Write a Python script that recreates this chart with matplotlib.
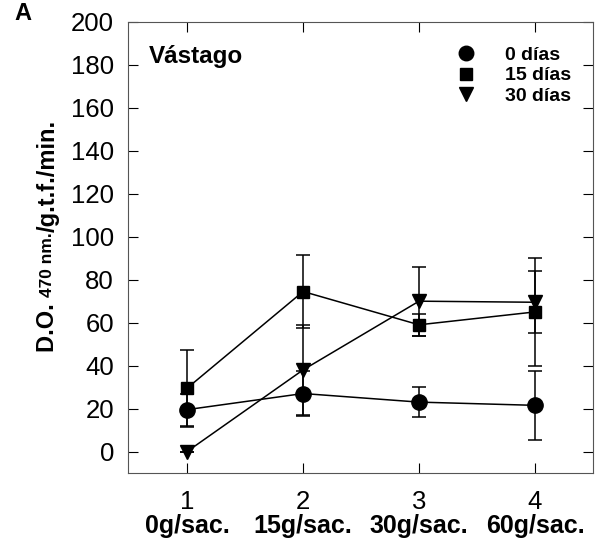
import matplotlib
matplotlib.use("Agg")
import matplotlib.pyplot as plt
from matplotlib.lines import Line2D

plt.rcParams["font.family"] = ["Liberation Sans", "DejaVu Sans"]

# Tratamientos (eje x)
dosis = [1, 2, 3, 4]
dosis_labels = ["0g/sac.", "15g/sac.", "30g/sac.", "60g/sac."]

# Actividad (D.O. 470 nm./g.t.f./min.) y desviaciones
dias0 = [19.5, 27.0, 23.0, 21.5]
dias0_err = [7.5, 10.5, 7.0, 16.0]
dias15 = [29.5, 74.5, 59.0, 65.0]
dias15_err = [18.0, 17.0, 5.0, 25.0]
dias30 = [0.0, 38.0, 70.0, 69.5]
dias30_err = [0.0, 21.0, 16.0, 14.5]

series = [
    ("0 días", dias0, dias0_err, "o", 11),
    ("15 días", dias15, dias15_err, "s", 9),
    ("30 días", dias30, dias30_err, "v", 10.5),
]

fig = plt.figure(figsize=(5.95, 5.47), dpi=100)
ax = fig.add_axes([0.2151, 0.1353, 0.7815, 0.8245])

for name, y, err, mk, ms in series:
    ax.errorbar(dosis, y, yerr=err, color="black", lw=1.1, elinewidth=1.1,
                capsize=5, capthick=1.1, marker=mk, ms=ms, mfc="black",
                mec="black", zorder=3)

ax.set_xlim(0.49, 4.5)
ax.set_ylim(-10, 200)
ax.set_yticks(range(0, 201, 20))
ax.set_xticks(dosis)
ax.set_xticklabels([str(d) for d in dosis])
ax.tick_params(direction="in", top=True, right=True, length=7, width=0.8,
               labelsize=18.5, pad=10)
ax.tick_params(axis="x", pad=12)
for s in ax.spines.values():
    s.set_linewidth(0.8)
    s.set_color("#555555")

for x, lab in zip(dosis, dosis_labels):
    ax.text(x, -0.09, lab, transform=ax.get_xaxis_transform(), ha="center",
            va="top", fontsize=18, fontweight="bold")

ax.text(0.67, 184, "Vástago", fontsize=17.5, fontweight="bold", va="center")
fig.text(0.024, 0.997, "A", fontsize=17, fontweight="bold", va="top")

handles = [Line2D([], [], ls="none", marker=mk, ms=ms * 0.95, color="black")
           for name, y, err, mk, ms in series]
ax.legend(handles, [s[0] for s in series], loc="upper right",
          bbox_to_anchor=(0.99, 0.985), frameon=False, handlelength=1.0,
          handletextpad=1.5, labelspacing=0.15,
          prop={"size": 14, "weight": "bold"})

# Etiqueta del eje y armada por partes (470 nm. en tamaño menor)
partes = [("D.O. ", 17), ("470 nm.", 12.5), ("/g.t.f./min.", 17)]
fig.canvas.draw()
r = fig.canvas.get_renderer()
y_px = 352
for txt, fs in partes:
    t = fig.text(48 / 595, 1 - y_px / 547, txt, rotation=90, fontsize=fs,
                 fontweight="bold", ha="center", va="bottom")
    h = t.get_window_extent(r).height
    y_px -= h

fig.savefig("out.png", dpi=100)
